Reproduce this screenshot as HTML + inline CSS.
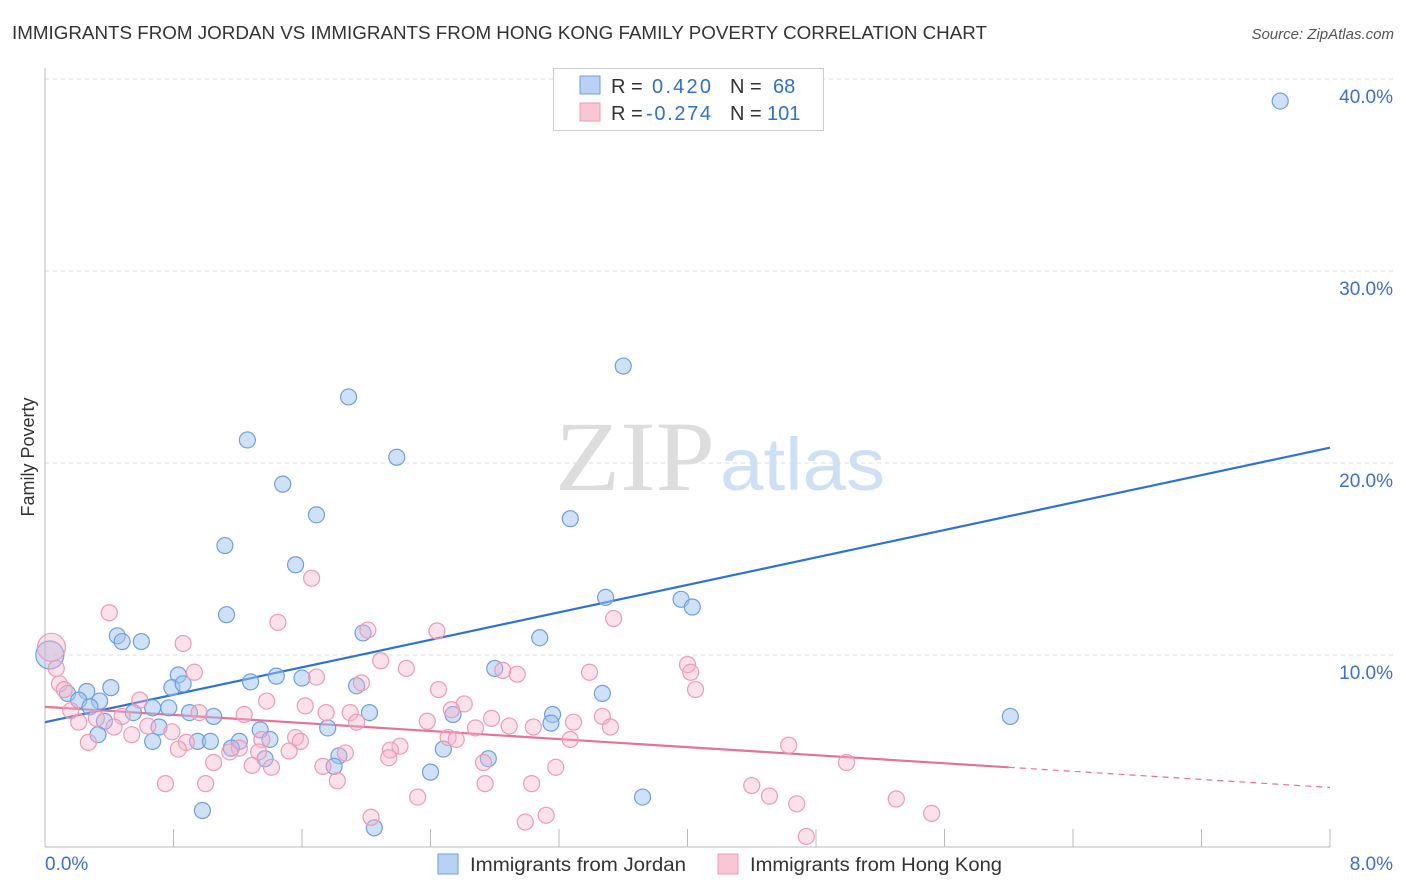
<!DOCTYPE html>
<html><head><meta charset="utf-8">
<style>
body{margin:0;background:#fff;font-family:"Liberation Sans",sans-serif;}
#wrap{position:relative;width:1406px;height:892px;overflow:hidden;}
</style></head>
<body>
<div id="wrap">
<svg id="chart" width="1406" height="892">
<text x="12" y="39" font-size="18" fill="#333" textLength="975" lengthAdjust="spacingAndGlyphs">IMMIGRANTS FROM JORDAN VS IMMIGRANTS FROM HONG KONG FAMILY POVERTY CORRELATION CHART</text>
<text x="1394" y="39" font-size="15" fill="#555" font-style="italic" text-anchor="end">Source: ZipAtlas.com</text>
<text x="34" y="457" font-size="18" fill="#333" text-anchor="middle" transform="rotate(-90 34 457)">Family Poverty</text>
<g>
<text x="555" y="490" font-size="100" fill="#ddd" font-family="Liberation Serif,serif" textLength="160" lengthAdjust="spacingAndGlyphs">ZIP</text>
<text x="720" y="490" font-size="74" fill="#cfe0f5" textLength="165" lengthAdjust="spacingAndGlyphs">atlas</text>
</g>
<g id="grid"></g><g id="axes"></g><g id="lines"></g><g id="pts"></g>
<g>
<rect x="553.5" y="68.5" width="270" height="62" fill="#fff" stroke="#ccc"/>
<rect x="580" y="76" width="20" height="18" fill="#b8d2f4" stroke="#6f9fe0"/>
<rect x="580" y="103" width="20" height="18" fill="#f9c6d4" stroke="#ef9ab4"/>
<text y="93" font-size="20" fill="#333"><tspan x="611">R =</tspan><tspan x="652" fill="#2f6fd4" textLength="59">0.420</tspan><tspan x="730">N =</tspan><tspan x="773" fill="#2f6fd4">68</tspan></text>
<text y="120" font-size="20" fill="#333"><tspan x="611">R =</tspan><tspan x="646" fill="#2f6fd4" textLength="65">-0.274</tspan><tspan x="730">N =</tspan><tspan x="767" fill="#2f6fd4">101</tspan></text>
</g>
<g>
<rect x="438" y="854" width="20" height="20" fill="#b8d2f4" stroke="#6f9fe0"/>
<text x="470" y="871" font-size="19" fill="#333" textLength="216" lengthAdjust="spacingAndGlyphs">Immigrants from Jordan</text>
<rect x="718" y="854" width="20" height="20" fill="#f9c6d4" stroke="#ef9ab4"/>
<text x="750" y="871" font-size="19" fill="#333" textLength="252" lengthAdjust="spacingAndGlyphs">Immigrants from Hong Kong</text>
</g>
</svg>
</div>
<script>
const xTicks=[0,1,2,3,4,5,6,7,8];
const yTicks=[10,20,30,40];
const yTickLabels=["10.0%","20.0%","30.0%","40.0%"];
const xTickLabels=["0.0%","8.0%"];
const jordanX=[7.69,3.60,1.89,1.26,2.19,1.48,1.69,3.27,1.12,1.56,3.49,3.96,4.03,1.13,1.98,3.08,0.45,0.48,0.60,2.80,0.83,1.44,1.60,1.28,0.79,0.86,1.94,0.41,0.26,3.47,0.14,0.21,0.34,0.28,0.77,0.67,0.90,0.55,2.02,2.54,3.16,6.01,1.05,0.37,3.15,0.71,1.76,1.34,0.33,1.21,0.95,1.40,0.67,1.03,1.16,2.48,1.83,1.37,2.76,1.80,2.40,3.72,0.98,2.05,0.03];
const jordanY=[38.85,25.05,23.44,21.2,20.3,18.9,17.3,17.1,15.7,14.7,13.0,12.9,12.5,12.1,11.15,10.9,11.0,10.7,10.7,9.3,8.96,8.9,8.8,8.6,8.3,8.5,8.4,8.3,8.1,8.0,8.0,7.65,7.6,7.3,7.25,7.25,7.0,7.0,7.0,6.9,6.9,6.8,6.8,6.55,6.45,6.25,6.2,6.1,5.85,5.5,5.5,5.6,5.5,5.5,5.15,5.1,4.75,4.6,4.6,4.2,3.9,2.6,1.9,1.0,10.0];
const hkX=[0.40,1.66,0.86,1.45,2.01,2.44,3.54,0.04,2.09,4.0,4.02,2.25,2.85,2.94,3.39,0.93,1.69,1.97,4.05,2.45,0.09,0.59,1.38,2.61,1.62,2.53,0.96,1.90,3.47,2.78,1.75,1.24,0.16,0.32,0.48,2.38,3.29,0.21,1.94,2.68,2.89,3.04,3.52,0.43,0.64,0.79,0.54,1.56,1.35,2.51,2.56,3.27,0.88,1.59,1.21,0.27,2.21,2.15,1.15,1.33,1.52,0.83,1.87,4.63,2.14,1.05,1.29,1.41,1.73,3.18,4.99,2.73,1.82,0.75,1.0,2.74,3.03,4.40,4.51,2.32,5.30,4.68,5.52,2.03,3.12,2.99,4.74,0.07,0.12];
const hkY=[12.2,14.0,10.6,11.7,11.3,11.25,11.9,10.4,9.7,9.5,9.1,9.3,9.2,9.0,9.1,9.1,8.85,8.55,8.2,8.2,8.5,7.65,7.6,7.45,7.35,7.15,7.0,7.0,6.8,6.7,7.0,6.9,7.1,6.7,6.8,6.55,6.5,6.5,6.5,6.2,6.3,6.25,6.25,6.25,6.3,6.0,5.85,5.7,5.6,5.7,5.6,5.6,5.45,5.5,5.15,5.45,5.25,5.05,4.95,4.95,5.0,5.1,4.9,5.3,4.65,4.4,4.25,4.15,4.2,4.15,4.4,4.4,3.45,3.3,3.3,3.3,3.3,3.2,2.65,2.6,2.5,2.25,1.75,1.55,1.65,1.3,0.55,9.3,8.2];
const jordanTrend=[6.5,20.8];
const hkTrend=[7.3,3.1];
const hkTrendSolidEnd=6.0;
const jordanBig=[64];
const hkBig=[7];

const NS="http://www.w3.org/2000/svg";
const X0=45,X1=1330,Y0=847,Y40=79;
const sx=v=>X0+(X1-X0)*v/8;
const sy=v=>Y0-(Y0-Y40)*v/40;
function mk(tag,attrs,parent){const e=document.createElementNS(NS,tag);for(const k in attrs)e.setAttribute(k,attrs[k]);document.getElementById(parent).appendChild(e);return e;}
yTicks.forEach((t,i)=>{
  const g=mk('line',{x1:X0,x2:1394,y1:sy(t),y2:sy(t),stroke:'#ddd','stroke-dasharray':'4,4'},'grid');
  
  
  const l=mk('text',{x:1393,y:sy(t)+24,'font-size':19,fill:'#3b6fd4','text-anchor':'end'},'axes');
  l.textContent=yTickLabels[i];
  
  
});
const ax=mk('line',{x1:X0,x2:X1,y1:Y0,y2:Y0,stroke:'#bbb'},'axes');


const ay=mk('line',{x1:X0,x2:X0,y1:68,y2:Y0,stroke:'#bbb'},'axes');


for(let v=0;v<=8;v+=0.8){
  const t=mk('line',{x1:sx(v),x2:sx(v),y1:829,y2:Y0,stroke:'#bbb'},'axes');
  
  
}
[[0,'start',45],[8,'end',1393]].forEach((d,i)=>{
  const l=mk('text',{x:d[2],y:870,'font-size':19,fill:'#3b6fd4','text-anchor':d[1]},'axes');
  l.textContent=xTickLabels[i];
  
  
});
jordanX.forEach((x,i)=>{
  const big=jordanBig.includes(i);
  const c=mk('circle',{cx:sx(x),cy:sy(jordanY[i]),r:big?14:8,fill:'rgba(160,195,240,0.5)',stroke:'#6f9fe0','stroke-width':1.2},'pts');
  
  
});
hkX.forEach((x,i)=>{
  const big=hkBig.includes(i);
  const c=mk('circle',{cx:sx(x),cy:sy(hkY[i]),r:big?14:8,fill:'rgba(246,180,200,0.4)',stroke:'#ef9ab4','stroke-width':1.2},'pts');
  
  
});
const bl=mk('line',{x1:sx(0),y1:sy(jordanTrend[0]),x2:sx(8),y2:sy(jordanTrend[1]),stroke:'#2f72d6','stroke-width':2.2},'lines');


const hy=v=>hkTrend[0]+(hkTrend[1]-hkTrend[0])*v/8;
const pl=mk('line',{x1:sx(0),y1:sy(hy(0)),x2:sx(hkTrendSolidEnd),y2:sy(hy(hkTrendSolidEnd)),stroke:'#e8709a','stroke-width':2.2},'lines');


const pd=mk('line',{x1:sx(hkTrendSolidEnd),y1:sy(hy(hkTrendSolidEnd)),x2:sx(8),y2:sy(hy(8)),stroke:'#e8709a','stroke-width':1.2,'stroke-dasharray':'6,5'},'lines');


</script>
</body></html>
